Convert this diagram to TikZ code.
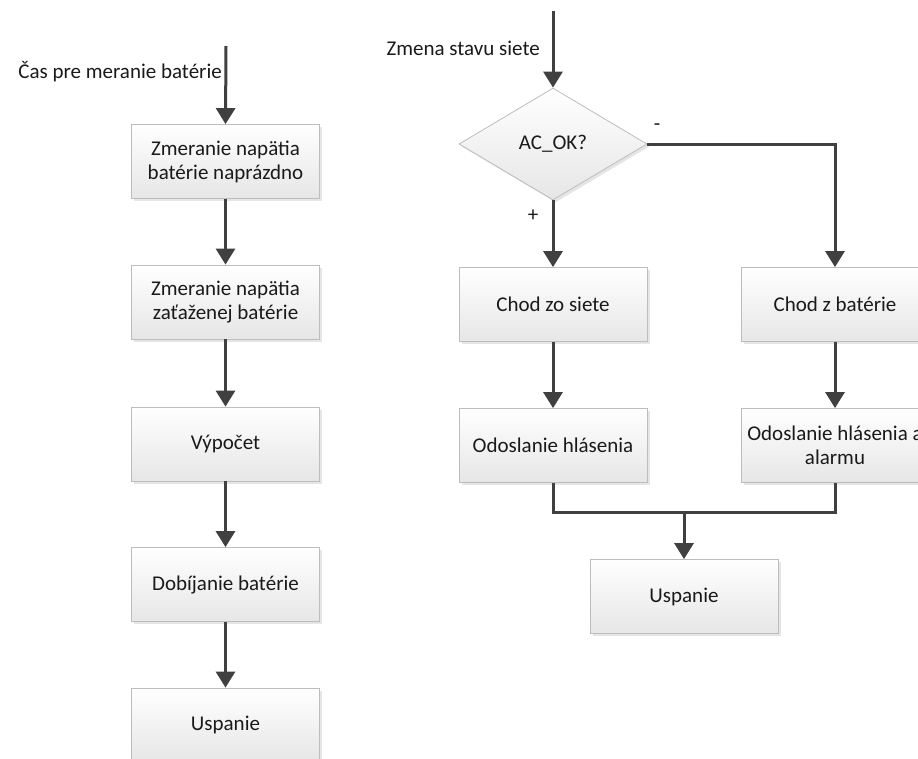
\documentclass[tikz,border=0pt]{standalone}
\usepackage{fontspec}
\setmainfont{Carlito}
\usetikzlibrary{arrows.meta,shapes.geometric,shadows}
\definecolor{linegray}{HTML}{404040}
\definecolor{boxborder}{HTML}{BDBDBD}
\definecolor{boxbottom}{HTML}{E6E6E6}
\definecolor{txt}{HTML}{1A1A1A}
\tikzset{
  flowbox/.style={rectangle, draw=boxborder, line width=0.8pt,
    top color=white, bottom color=boxbottom,
    minimum width=188pt, minimum height=74pt, inner sep=2pt,
    align=center, text=txt, font=\fontsize{21}{24}\selectfont,
    drop shadow={shadow xshift=2.5pt, shadow yshift=-2.5pt, fill=black, opacity=0.10}},
  decisionbox/.style={diamond, draw=boxborder, line width=0.8pt,
    top color=white, bottom color=boxbottom,
    aspect=1.68, minimum width=188pt, minimum height=112pt, inner sep=0pt,
    text=txt, font=\fontsize{21}{24}\selectfont,
    drop shadow={shadow xshift=2.5pt, shadow yshift=-2.5pt, fill=black, opacity=0.10}},
  flowlabel/.style={text=txt, font=\fontsize{21}{24}\selectfont, inner sep=0pt},
  flowarrow/.style={draw=linegray, line width=3pt, -{Triangle[width=19pt,length=16pt]}},
  flowline/.style={draw=linegray, line width=3pt}
}
\begin{document}
\begin{tikzpicture}[x=1pt,y=-1pt]
\useasboundingbox (0,0) rectangle (918,758);
\clip (0,0) rectangle (918,758);
% left column
\coordinate (lstart) at (226,46);
\node[flowbox] (l1) at (225.5,161.5) {Zmeranie napätia\\batérie naprázdno};
\node[flowbox] (l2) at (225.5,302) {Zmeranie napätia\\zaťaženej batérie};
\node[flowbox] (l3) at (225.5,444) {Výpočet};
\node[flowbox] (l4) at (225.5,584.5) {Dobíjanie batérie};
\node[flowbox] (l5) at (225.5,725) {Uspanie};
\node[flowlabel, anchor=east] (llab) at (222,72) {Čas pre meranie batérie};
\draw[flowarrow] (lstart) -- (l1.north);
\draw[flowarrow] (l1.south) -- (l2.north);
\draw[flowarrow] (l2.south) -- (l3.north);
\draw[flowarrow] (l3.south) -- (l4.north);
\draw[flowarrow] (l4.south) -- (l5.north);
% right part
\coordinate (rstart) at (553,11);
\node[decisionbox] (dec) at (553,144) {AC\_OK?};
\node[flowlabel, anchor=east] (rlab) at (540,48) {Zmena stavu siete};
\node[flowbox] (cs) at (553,304.5) {Chod zo siete};
\node[flowbox] (cb) at (835,304.5) {Chod z batérie};
\node[flowbox] (oh) at (553,445.5) {Odoslanie hlásenia};
\node[flowbox] (oha) at (835,445.5) {Odoslanie hlásenia a\\alarmu};
\node[flowbox] (us) at (684,596.5) {Uspanie};
\node[flowlabel] (minus) at (657,127) {-};
\node[flowlabel] (plus) at (533,216) {+};
\coordinate (join) at (684,512);
\draw[flowarrow] (rstart) -- (dec.north);
\draw[flowarrow] (dec.south) -- (cs.north);
\draw[flowarrow] (dec.east) -| (cb.north);
\draw[flowarrow] (cs.south) -- (oh.north);
\draw[flowarrow] (cb.south) -- (oha.north);
\draw[flowline, line join=miter] (oh.south) -- (oh.south |- join) -- (oha.south |- join) -- (oha.south);
\draw[flowarrow] (join) -- (us.north);
\end{tikzpicture}
\end{document}
